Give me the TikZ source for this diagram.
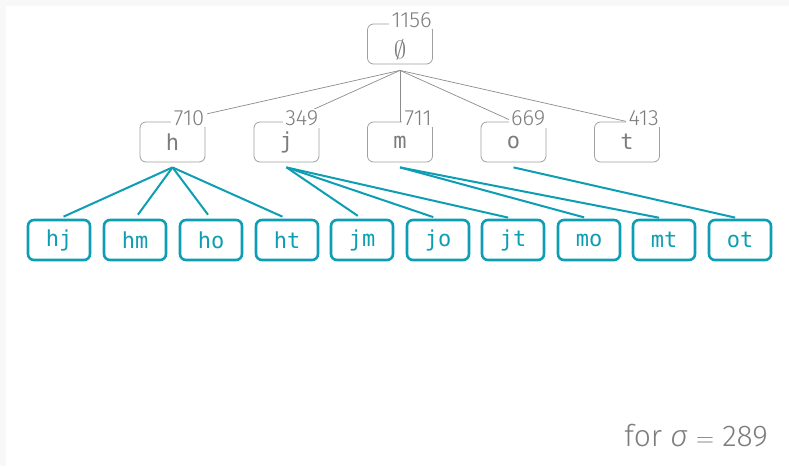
\documentclass[tikz,border=0pt]{standalone}
\usepackage{fontspec}
\setmainfont{Fira Sans}[UprightFont={* Light},ItalicFont={* Light Italic}]
\setmonofont{DejaVu Sans Mono}
\usetikzlibrary{calc}
\definecolor{teal}{RGB}{14,158,180}
\definecolor{boxgray}{RGB}{160,160,160}
\definecolor{txtgray}{RGB}{125,125,125}
\definecolor{edgegray}{RGB}{140,140,140}
\definecolor{framegray}{RGB}{248,248,248}
\tikzset{
  setbox/.style={draw=boxgray, line width=0.8pt, rounded corners=6pt,
    minimum width=65pt, minimum height=40pt, inner sep=0pt,
    text=txtgray, font=\ttfamily\fontsize{22}{24}\selectfont},
  pairbox/.style={draw=teal, line width=2.6pt, rounded corners=6pt,
    minimum width=62pt, minimum height=40pt, inner sep=0pt,
    text=teal, font=\ttfamily\fontsize{22}{24}\selectfont},
  count/.style={fill=white, inner xsep=2.5pt, inner ysep=1.5pt, anchor=base east,
    text=txtgray, font=\fontsize{22}{24}\selectfont},
  treeedge/.style={draw=edgegray, line width=0.7pt},
  pairedge/.style={draw=teal, line width=2pt, shorten >=5pt}
}
\begin{document}
\begin{tikzpicture}[x=1pt, y=-1pt]
  % page and frame
  \fill[framegray] (0,0) rectangle (789,466);
  \fill[white] (6,6) rectangle (789,466);
  \useasboundingbox (0,0) rectangle (789,466);

  % root and first level
  \node[setbox] (root) at (400,44) {\raisebox{-6pt}[\height][\depth]{\scalebox{1.2}{$\emptyset$}}};
  \node[setbox] (h) at (172.5,142) {h};
  \node[setbox] (j) at (286.5,142) {j};
  \node[setbox] (m) at (400,142) {m};
  \node[setbox] (o) at (513.5,142) {o};
  \node[setbox] (t) at (627,142) {t};

  % candidate pairs
  \node[pairbox] (hj) at (59,240) {hj};
  \node[pairbox] (hm) at (135,240) {hm};
  \node[pairbox] (ho) at (211,240) {ho};
  \node[pairbox] (ht) at (287,240) {ht};
  \node[pairbox] (jm) at (362,240) {jm};
  \node[pairbox] (jo) at (438,240) {jo};
  \node[pairbox] (jt) at (513,240) {jt};
  \node[pairbox] (mo) at (589,240) {mo};
  \node[pairbox] (mt) at (664,240) {mt};
  \node[pairbox] (ot) at (740,240) {ot};

  % common start points just below each parent
  \coordinate (sroot) at ($(root.south)+(0,6)$);
  \foreach \p in {h,j,m,o}
    \coordinate (s\p) at ($(\p.south)+(0,5)$);

  % tree edges
  \foreach \c in {h,j,m,o,t}
    \draw[treeedge] (sroot) -- (\c.north);

  % pair edges
  \foreach \p/\c in {h/hj,h/hm,h/ho,h/ht,j/jm,j/jo,j/jt,m/mo,m/mt,o/ot}
    \draw[pairedge] (s\p) -- (\c.north);

  % support counts
  \node[count] (nroot) at ($(root.north east)+(1.5,4)$) {1156};
  \node[count] (nh) at ($(h.north east)+(1.5,4)$) {710};
  \node[count] (nj) at ($(j.north east)+(1.5,4)$) {349};
  \node[count] (nm) at ($(m.north east)+(1.5,4)$) {711};
  \node[count] (no) at ($(o.north east)+(1.5,4)$) {669};
  \node[count] (nt) at ($(t.north east)+(1.5,4)$) {413};

  % threshold
  \node[anchor=base east, text=txtgray, font=\fontsize{30}{34}\selectfont, inner sep=0pt]
    (sigma) at (768,446) {for \textit{σ} $=$ 289};
\end{tikzpicture}
\end{document}
